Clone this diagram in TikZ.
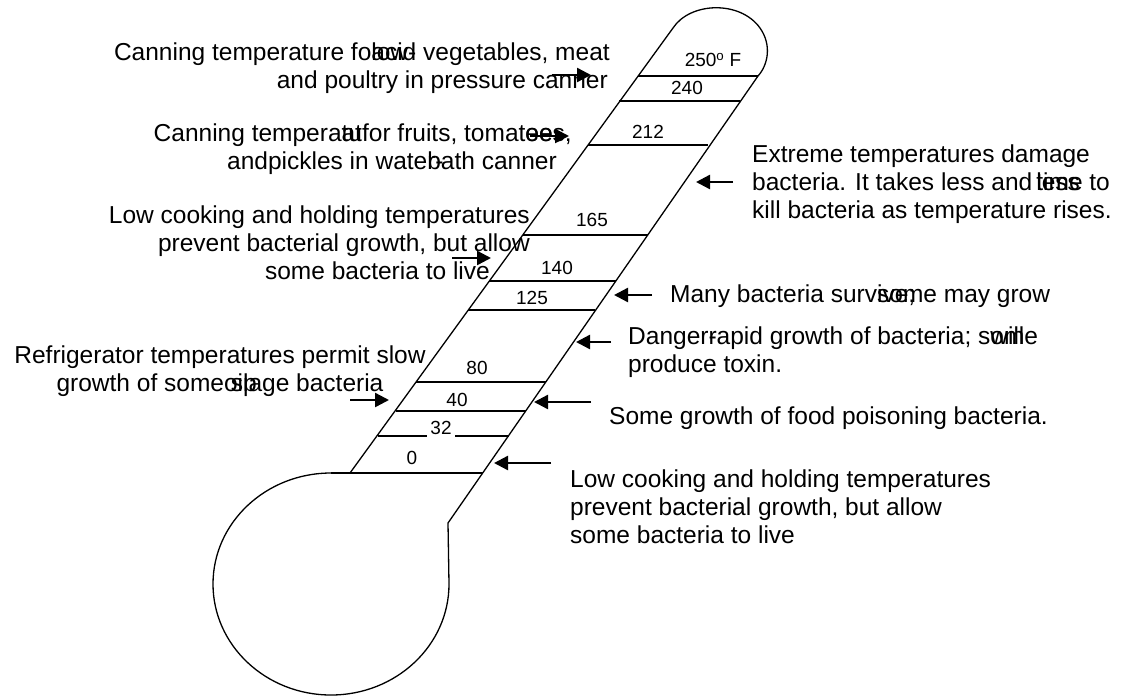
\documentclass[tikz,border=0pt]{standalone}
\usepackage{fontspec}
\setmainfont{Liberation Sans}
\usetikzlibrary{arrows.meta}
\tikzset{
  tube/.style={line width=1.3pt},
  deg/.style={font=\fontsize{19}{21}\selectfont, inner sep=1pt},
  note/.style={font=\fontsize{24.5}{28}\selectfont, inner sep=0pt},
  pointer/.style={line width=2.4pt, -{Triangle[length=14pt,width=14pt]}}
}

\begin{document}
\begin{tikzpicture}[x=1pt,y=-1pt]
      \useasboundingbox (0,0) rectangle (1121,697);

      % Tube, cap and bulb
      \draw[tube] (331,473) -- (350,473) -- (673,28)
        .. controls (690,2) and (740,0) .. (760,28)
        .. controls (772,45) and (768,65) .. (758,76)
        -- (448,523) -- (449,584)
        arc[start angle=0, end angle=270, x radius=118, y radius=111];

      % Scale lines
      \foreach \y/\xl/\xr in {76/638/758, 101/619/740, 145/588/708, 235/523/648,
                              281/489/616, 310/468/595, 382/416/546, 411/396/526,
                              473/331/483} {
        \draw[tube] (\xl,\y) -- (\xr,\y);
      }
      \draw[tube] (378,436) -- (427,436);
      \draw[tube] (455,436) -- (509,436);

      % Scale labels
      \node[deg] (deg250) at (713,60) {250\textsuperscript{o} F};
      \foreach \t/\x/\y in {240/687/88, 212/648/132, 165/592/220, 140/557/268,
                            125/532/298, 80/477/368, 40/457/400, 32/441/428, 0/412/458} {
        \node[deg] (deg\t) at (\x,\y) {\t};
      }

      % Pointers
      \foreach \i/\xa/\xb/\y in {1/552/591/75, 2/530/569/136, 3/733/696/182,
                                 4/452/491/258, 5/652/614/295, 6/611/576/342,
                                 7/350/389/400, 8/591/534/402, 9/551/494/463} {
        \coordinate (tail\i) at (\xa,\y);
        \coordinate (tip\i) at (\xb,\y);
        \draw[pointer] (tail\i) -- (tip\i);
      }

      % Notes on the left
      \node[note, anchor=east, align=right] (pressure) at (610,68)
        {Canning temperature fo\rlap{low-}acid vegetables, meat\\
         and poultry in pressure canner\hspace*{2pt}};
      \node[note, anchor=east, align=right] (waterbath) at (572,149)
        {Canning tempera\rlap{at}tufor fruits, tomat\rlap{ee}oes,\\
         andpickles in wate\rlap{r-}bath canner\hspace*{15pt}};
      \node[note, anchor=east, align=right] (holdleft) at (530,243)
        {Low cooking and holding temperatures\\
         prevent bacterial growth, but allow\hspace*{12pt}\\
         some bacteria to live\hspace*{40pt}};
      \node[note, align=center] (fridge) at (220,371)
        {Refrigerator temperatures permit slow\\
         growth of some\rlap{ sp}oilage bacteria};

      % Notes on the right
      \node[note, anchor=west, align=left] (extreme) at (752,184)
        {Extreme temperatures damage\\
         bacteria. It takes less and\,\rlap{less}time to\\
         kill bacteria as temperature rises.};
      \node[note, anchor=west] (survive) at (670,296)
        {Many bacteria surv\rlap{ive;}some may grow};
      \node[note, anchor=west, align=left] (danger) at (628,352)
        {Danger\rlap{-}rapid growth of bacteria; s\rlap{will}ome\\
         produce toxin.};
      \node[note, anchor=west] (poison) at (609,418)
        {Some growth of food poisoning bacteria.};
      \node[note, anchor=west, align=left] (holdright) at (570,507)
        {Low cooking and holding temperatures\\
         prevent bacterial growth, but allow\\
         some bacteria to live};
    \end{tikzpicture}
\end{document}
